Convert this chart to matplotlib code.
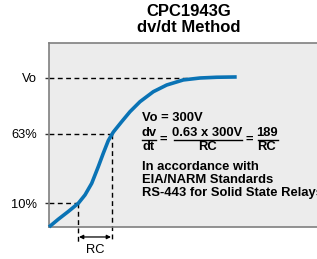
import matplotlib
matplotlib.use("Agg")
import matplotlib.pyplot as plt

# curve (time in px-like units, voltage as fraction of Vo)
t = [0, 9.3, 19.3, 29.3, 36, 42.7, 49.3, 54.3, 59.3, 64.3, 72.7, 81, 91,
     104.3, 117.7, 134.3, 151, 167.7, 187.7]
v = [0, 0.052, 0.104, 0.159, 0.215, 0.293, 0.405, 0.495, 0.58, 0.637, 0.707,
     0.774, 0.841, 0.908, 0.953, 0.987, 1.0, 1.005, 1.007]

levels = [0.16, 0.625, 1.0]
level_labels = ["10%", "63%", "Vo"]
level_ends = [29, 63, 140]
rc_start, rc_end = 29, 63

plt.rcParams["font.family"] = ["Liberation Sans", "DejaVu Sans"]

W, H = 317, 259
fig = plt.figure(figsize=(W / 100, H / 100), dpi=100)

def fx(px):
    return px / W

def fy(py):
    return (H - py) / H

ax = fig.add_axes([fx(49), fy(227), fx(340) - fx(49), fy(43) - fy(227)])
ax.set_facecolor("#ececec")
ax.set_xlim(0, 291)
ax.set_ylim(0, 184 / 149)

for s in ["left", "top", "bottom"]:
    ax.spines[s].set_color("#7f7f7f")
    ax.spines[s].set_linewidth(1.2)
ax.spines["right"].set_visible(False)

ax.set_xticks([])
ax.set_yticks(levels)
ax.set_yticklabels(level_labels, fontsize=9.3)
ax.tick_params(axis="y", length=3, width=1, color="#333333", pad=5.5)

dash = dict(color="black", lw=1.0, linestyle=(0, (3.5, 2.5)))
for lev, end in zip(levels, level_ends):
    ax.plot([0, end], [lev, lev], **dash)
ax.plot([rc_start, rc_start], [levels[0], -0.10], clip_on=False, **dash)
ax.plot([rc_end, rc_end], [levels[1], -0.10], clip_on=False, **dash)

ax.plot(t, v, color="#0a73b5", lw=2.6, clip_on=False, solid_capstyle="butt",
        solid_joinstyle="round", zorder=5)

ax.annotate("", xy=(rc_end - 1, -0.067), xytext=(rc_start + 1, -0.067),
            arrowprops=dict(arrowstyle="<|-|>", color="black", lw=0.9,
                            mutation_scale=6, shrinkA=0, shrinkB=0),
            annotation_clip=False)
ax.text((rc_start + rc_end) / 2, -0.155, "RC", ha="center", va="center",
        fontsize=9.3, clip_on=False)

fig.text(fx(189), fy(12), "CPC1943G", ha="center", va="center",
         fontsize=12, fontweight="bold")
fig.text(fx(189), fy(27), "dv/dt Method", ha="center", va="center",
         fontsize=12, fontweight="bold")

bold = dict(fontsize=9.4, fontweight="bold", va="center")
fig.text(fx(142), fy(118), "Vo = 300V", ha="left", **bold)

# fraction dv/dt = 0.63 x 300V / RC = 189 / RC
fracs = [(149, "dv", "dt", 142, 156), (207.5, "0.63 x 300V", "RC", 174, 242),
         (267, "189", "RC", 258, 278)]
for cx, num, den, x0, x1 in fracs:
    fig.text(fx(cx), fy(132.5), num, ha="center", **bold)
    fig.text(fx(cx), fy(147), den, ha="center", **bold)
    fig.add_artist(plt.Line2D([fx(x0), fx(x1)], [fy(139.5), fy(139.5)],
                              color="black", lw=1.0))
fig.text(fx(163.5), fy(140), "=", ha="center", **bold)
fig.text(fx(249.5), fy(140), "=", ha="center", **bold)

notes = ["In accordance with", "EIA/NARM Standards", "RS-443 for Solid State Relays"]
for i, line in enumerate(notes):
    fig.text(fx(142), fy(167.5 + 12.8 * i), line, ha="left", **bold)

fig.savefig("out.png", dpi=100)
